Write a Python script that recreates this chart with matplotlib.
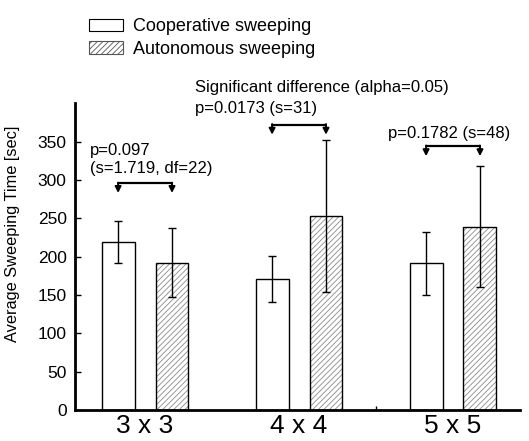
import matplotlib
matplotlib.use("Agg")
import matplotlib.pyplot as plt
from matplotlib.patches import Patch
import numpy as np

plt.rcParams['font.family'] = ['Liberation Sans', 'DejaVu Sans']
plt.rcParams['hatch.linewidth'] = 0.6

categories = ["3 x 3", "4 x 4", "5 x 5"]
coop_mean = [219, 171, 191]
coop_err = [28, 30, 41]
auto_mean = [192, 253, 239]
auto_err = [45, 99, 79]
series_labels = ["Cooperative sweeping", "Autonomous sweeping"]
yticks = [0, 50, 100, 150, 200, 250, 300, 350]

fig = plt.figure(figsize=(5.29, 4.41), dpi=100)
ax = fig.add_axes([0.1418, 0.0703, 0.983 - 0.1418, 0.766 - 0.0703])

x = np.arange(len(categories))
off = 0.175
w = 0.214
xc = x - off
xa = x + off

ax.bar(xc, coop_mean, w, color='white', edgecolor='black', linewidth=1.0, zorder=2)
ax.bar(xa, auto_mean, w, color='white', edgecolor='#8a8a8a', hatch='//////', linewidth=0, zorder=2)
ax.bar(xa, auto_mean, w, color='none', edgecolor='black', linewidth=1.0, zorder=3)
ax.errorbar(xc, coop_mean, yerr=coop_err, fmt='none', ecolor='black', elinewidth=1.0, capsize=3, capthick=1.0, zorder=4)
ax.errorbar(xa, auto_mean, yerr=auto_err, fmt='none', ecolor='black', elinewidth=1.0, capsize=3, capthick=1.0, zorder=4)

# significance brackets
bracket_top = [295.5, 372, 344]
bracket_tip = [283, 359, 331]
for i in range(len(categories)):
    yt, yb = bracket_top[i], bracket_tip[i]
    ax.plot([xc[i], xa[i]], [yt, yt], color='black', lw=1.6, zorder=5, solid_capstyle='round')
    for xx in (xc[i], xa[i]):
        ax.annotate('', xy=(xx, yb), xytext=(xx, yt + 0.8),
                    arrowprops=dict(arrowstyle='-|>,head_length=0.35,head_width=0.18',
                                    color='black', lw=1.4, shrinkA=0, shrinkB=0), zorder=5)

fs = 12
ax.text(-0.357, 338, "p=0.097", fontsize=fs, ha='left', va='center')
ax.text(-0.357, 315, "(s=1.719, df=22)", fontsize=fs, ha='left', va='center')
ax.text(0.325, 420, "Significant difference (alpha=0.05)", fontsize=fs, ha='left', va='center', clip_on=False)
ax.text(0.325, 393, "p=0.0173 (s=31)", fontsize=fs, ha='left', va='center', clip_on=False)
ax.text(1.578, 360, "p=0.1782 (s=48)", fontsize=fs, ha='left', va='center', clip_on=False)

ax.set_xlim(-0.455, 2.435)
ax.set_ylim(0, 400)
ax.set_yticks(yticks)
ax.set_yticklabels([str(t) for t in yticks], fontsize=12.5)
ax.tick_params(axis='y', direction='in', length=4, width=1, pad=6)

ax.set_xticks(list(xc) + list(xa) + [1.5], minor=True)
ax.set_xticks(x)
ax.set_xticklabels(categories, fontsize=19)
ax.tick_params(axis='x', which='major', length=0, pad=3)
ax.tick_params(axis='x', which='minor', direction='in', length=3, width=1)

for s in ['top', 'right']:
    ax.spines[s].set_visible(False)
ax.spines['left'].set_linewidth(2)
ax.spines['bottom'].set_linewidth(2)

ax.set_ylabel("Average Sweeping Time [sec]", fontsize=11.8, labelpad=5)
ax.yaxis.set_label_coords(-0.124, 0.575)

handles = [Patch(facecolor='white', edgecolor='black', linewidth=0.8),
           Patch(facecolor='white', edgecolor='#555555', hatch='//////', linewidth=0.8)]
fig.legend(handles, series_labels, loc='upper left', bbox_to_anchor=(0.155, 0.975),
           frameon=False, fontsize=13, handlelength=1.85, handleheight=0.7,
           handletextpad=0.55, labelspacing=0.3, borderaxespad=0)

fig.savefig("out.png", dpi=100)
